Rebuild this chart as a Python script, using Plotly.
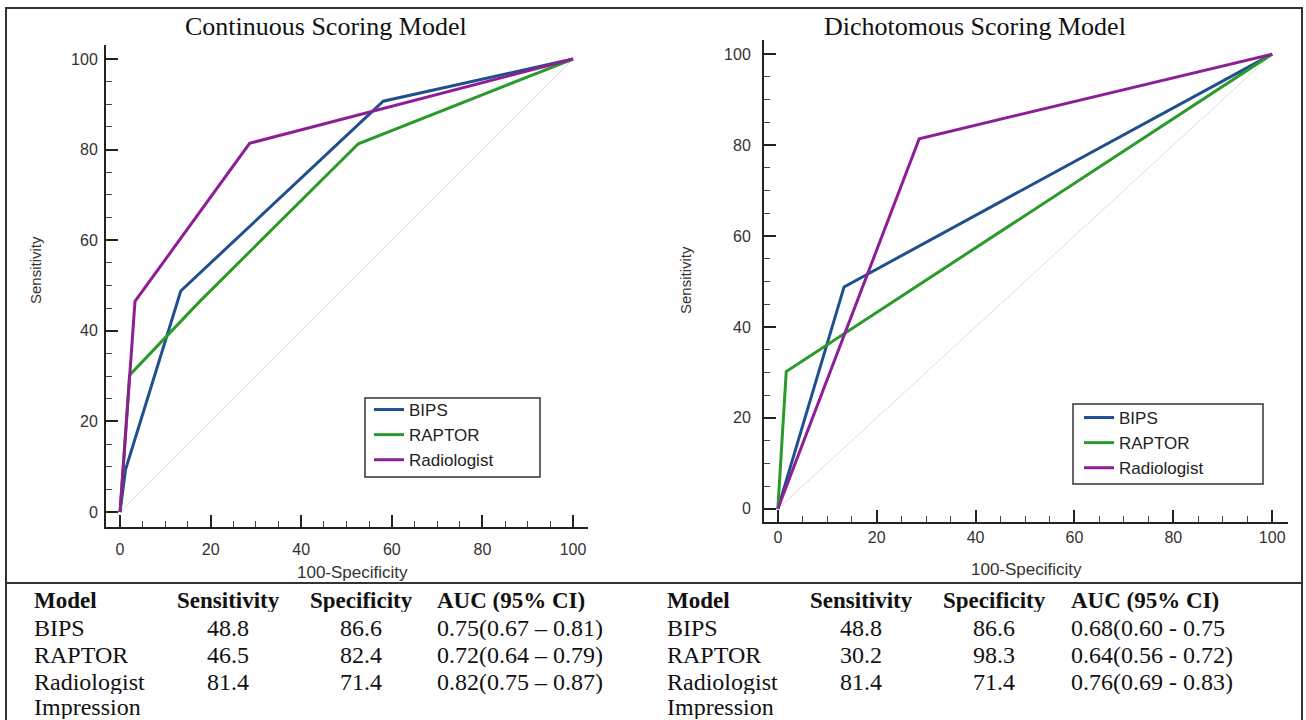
import plotly.graph_objects as go

W, H = 1306, 720

# ---------------- data ----------------
series_names = ["BIPS", "RAPTOR", "Radiologist"]
series_colors = ["#1f4f8c", "#2a9a2a", "#8e1e96"]

# Continuous scoring model ROC curves (100-Specificity, Sensitivity)
cont_bips_x = [0, 1.2, 13.4, 58.1, 100]
cont_bips_y = [0, 9.3, 48.8, 90.7, 100]
cont_raptor_x = [0, 2.1, 17.6, 52.6, 100]
cont_raptor_y = [0, 30.2, 46.5, 81.3, 100]
cont_rad_x = [0, 3.3, 28.6, 100]
cont_rad_y = [0, 46.5, 81.4, 100]

# Dichotomous scoring model ROC curves
dich_bips_x = [0, 13.4, 100]
dich_bips_y = [0, 48.8, 100]
dich_raptor_x = [0, 1.7, 100]
dich_raptor_y = [0, 30.2, 100]
dich_rad_x = [0, 28.6, 100]
dich_rad_y = [0, 81.4, 100]

diag_x = [0, 100]
diag_y = [0, 100]

x_ticks = [0, 20, 40, 60, 80, 100]
y_ticks = [0, 20, 40, 60, 80, 100]

titles = ["Continuous Scoring Model", "Dichotomous Scoring Model"]

table_header = ["Model", "Sensitivity", "Specificity", "AUC (95% CI)"]
table_models = ["BIPS", "RAPTOR", "Radiologist", "Impression"]
cont_sens = ["48.8", "46.5", "81.4"]
cont_spec = ["86.6", "82.4", "71.4"]
cont_auc = ["0.75(0.67 \u2013 0.81)", "0.72(0.64 \u2013 0.79)", "0.82(0.75 \u2013 0.87)"]
dich_sens = ["48.8", "30.2", "81.4"]
dich_spec = ["86.6", "98.3", "71.4"]
dich_auc = ["0.68(0.60 - 0.75", "0.64(0.56 - 0.72)", "0.76(0.69 - 0.83)"]

# ---------------- figure ----------------
fig = go.Figure()

def px(x):
    return x / W

def py(y):
    return 1 - y / H

left_sets = [(cont_bips_x, cont_bips_y), (cont_raptor_x, cont_raptor_y), (cont_rad_x, cont_rad_y)]
right_sets = [(dich_bips_x, dich_bips_y), (dich_raptor_x, dich_raptor_y), (dich_rad_x, dich_rad_y)]

for xa, ya, sets, leg in [("x", "y", left_sets, "legend"), ("x2", "y2", right_sets, "legend2")]:
    fig.add_trace(go.Scatter(x=diag_x, y=diag_y, mode="lines", xaxis=xa, yaxis=ya,
                             line=dict(color="#dcdcdc", width=1), showlegend=False,
                             hoverinfo="skip"))
    for name, color, (sx, sy) in zip(series_names, series_colors, sets):
        fig.add_trace(go.Scatter(x=sx, y=sy, mode="lines", name=name, xaxis=xa, yaxis=ya,
                                 line=dict(color=color, width=3), legend=leg))

tick_font = dict(family="Liberation Sans, Arial", size=16, color="#333")
common_axis = dict(showline=True, linewidth=2, linecolor="#222", ticks="inside",
                   ticklen=12, tickwidth=2, tickcolor="#222", showgrid=False, zeroline=False,
                   tickfont=tick_font, mirror=False,
                   minor=dict(ticks="inside", ticklen=6, tickwidth=1, tickcolor="#444", dtick=5))

legend_font = dict(family="Liberation Sans, Arial", size=17, color="#222")
fig.update_layout(
    width=W, height=H, autosize=False,
    margin=dict(l=0, r=0, t=0, b=0),
    paper_bgcolor="white", plot_bgcolor="white",
    xaxis=dict(domain=[px(106), px(588)], range=[-3.1, 103.3], anchor="y",
               tickvals=x_ticks, ticklabelstandoff=7, **common_axis),
    yaxis=dict(domain=[py(527), py(45)], range=[-3.3, 103.1], anchor="x",
               tickvals=y_ticks, ticklabelstandoff=3, **common_axis),
    xaxis2=dict(domain=[px(764), px(1288)], range=[-2.8, 103.2], anchor="y2",
                tickvals=x_ticks, ticklabelstandoff=0, **common_axis),
    yaxis2=dict(domain=[py(522), py(40)], range=[-2.9, 103.1], anchor="x2",
                tickvals=y_ticks, ticklabelstandoff=8, **common_axis),
    legend=dict(x=px(369), y=py(392), xanchor="left", yanchor="top",
                borderwidth=0, bgcolor="rgba(0,0,0,0)",
                font=legend_font, itemwidth=30, tracegroupgap=0),
    legend2=dict(x=px(1079), y=py(400), xanchor="left", yanchor="top",
                 borderwidth=0, bgcolor="rgba(0,0,0,0)",
                 font=legend_font, itemwidth=30, tracegroupgap=0),
    showlegend=True,
)

ann = []
serif = "Liberation Serif, Times New Roman"
sans = "Liberation Sans, Arial"
# titles
ann.append(dict(x=px(326), y=py(27), text=titles[0], showarrow=False, xref="paper", yref="paper",
                font=dict(family=serif, size=26, color="#111"), xanchor="center", yanchor="middle"))
ann.append(dict(x=px(975), y=py(27), text=titles[1], showarrow=False, xref="paper", yref="paper",
                font=dict(family=serif, size=26, color="#111"), xanchor="center", yanchor="middle"))
# axis titles
for (xx, yy) in [(35, 270), (686, 280)]:
    ann.append(dict(x=px(xx), y=py(yy), text="Sensitivity", showarrow=False, xref="paper", yref="paper",
                    textangle=-90, font=dict(family=sans, size=15, color="#333"),
                    xanchor="center", yanchor="middle"))
for (xx, yy) in [(352, 572), (1026, 569)]:
    ann.append(dict(x=px(xx), y=py(yy), text="100-Specificity", showarrow=False, xref="paper", yref="paper",
                    font=dict(family=sans, size=17, color="#333"), xanchor="center", yanchor="middle"))

# tables
row_y = [600, 628, 655, 682, 707]
tables = [
    (dict(model=32, sens=228, spec=361, auc=435), cont_sens, cont_spec, cont_auc),
    (dict(model=665, sens=861, spec=994, auc=1069), dich_sens, dich_spec, dich_auc),
]
tfs = 24
RH = 24
for cols, sens, spec, auc in tables:
    hdr_pos = [(cols["model"], "left"), (cols["sens"], "center"), (cols["spec"], "center"), (cols["auc"], "left")]
    for (xx, anc), txt in zip(hdr_pos, table_header):
        ann.append(dict(x=px(xx), y=py(row_y[0]), text="<b>" + txt + "</b>", showarrow=False,
                        xref="paper", yref="paper", xanchor=anc, yanchor="middle", height=RH,
                        font=dict(family=serif, size=tfs - 1, color="#111")))
    for i, m in enumerate(table_models):
        ann.append(dict(x=px(cols["model"]), y=py(row_y[i + 1]), text=m, showarrow=False,
                        xref="paper", yref="paper", xanchor="left", yanchor="middle", height=RH,
                        font=dict(family=serif, size=tfs, color="#111")))
    for i in range(3):
        for xx, anc, txt in [(cols["sens"], "center", sens[i]), (cols["spec"], "center", spec[i]),
                             (cols["auc"], "left", auc[i])]:
            ann.append(dict(x=px(xx), y=py(row_y[i + 1]), text=txt, showarrow=False,
                            xref="paper", yref="paper", xanchor=anc, yanchor="middle", height=RH,
                            font=dict(family=serif, size=tfs, color="#111")))
fig.update_layout(annotations=ann)

# legend boxes
fig.add_shape(type="rect", xref="paper", yref="paper", x0=px(365), x1=px(540), y0=py(477), y1=py(398),
              line=dict(color="#333", width=1.5), fillcolor="rgba(0,0,0,0)", layer="above")
fig.add_shape(type="rect", xref="paper", yref="paper", x0=px(1073), x1=px(1263), y0=py(484), y1=py(404),
              line=dict(color="#333", width=1.5), fillcolor="rgba(0,0,0,0)", layer="above")

# frame
fig.add_shape(type="rect", xref="paper", yref="paper", x0=px(6), x1=px(1302), y0=py(730), y1=py(8),
              line=dict(color="#333", width=2), fillcolor="rgba(0,0,0,0)", layer="above")
fig.add_shape(type="line", xref="paper", yref="paper", x0=px(6), x1=px(1302), y0=py(583), y1=py(583),
              line=dict(color="#333", width=2), layer="above")

fig.write_html("out.html", config={"displayModeBar": False},
               post_script="document.body.style.margin='0';document.body.style.padding='0';"
                           "document.body.style.overflow='hidden';")
